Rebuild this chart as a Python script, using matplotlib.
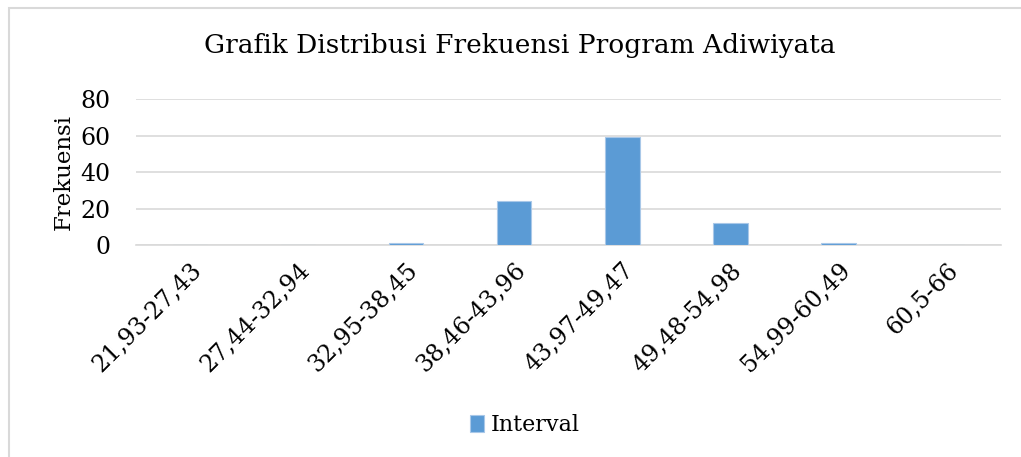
import matplotlib
matplotlib.use("Agg")
import matplotlib.pyplot as plt
from matplotlib.patches import Rectangle

categories = ["21,93-27,43", "27,44-32,94", "32,95-38,45", "38,46-43,96",
              "43,97-49,47", "49,48-54,98", "54,99-60,49", "60,5-66"]
values = [0, 0, 1, 24, 59, 12, 1, 0]
series_name = "Interval"
title = "Grafik Distribusi Frekuensi Program Adiwiyata"
ylabel = "Frekuensi"
yticks = [0, 20, 40, 60, 80]

plt.rcParams['font.family'] = ['DejaVu Serif']
fig = plt.figure(figsize=(10.21, 4.57), dpi=100)
fig.patches.append(Rectangle((0.0088, -0.1), 1.2, 1.0825, transform=fig.transFigure,
                             fill=False, edgecolor='#d9d9d9', linewidth=1.5))
ax = fig.add_axes([0.133, 0.464, 0.847, 0.319])
bar_color = '#5b9bd5'
x = list(range(len(categories)))
ax.bar(x, values, width=0.32, color=bar_color, edgecolor='#a9c8e8', linewidth=0.8,
       label=series_name, zorder=3)
ax.set_xlim(-0.5, len(categories) - 0.5)
ax.set_ylim(0, 80)
ax.set_yticks(yticks)
ax.grid(axis='y', color='#d9d9d9', linewidth=1.2, zorder=0)
for s in ['top', 'right', 'left']:
    ax.spines[s].set_visible(False)
ax.spines['bottom'].set_color('#d9d9d9')
ax.spines['bottom'].set_linewidth(1.2)
ax.tick_params(axis='both', length=0, labelsize=17, colors='black')
ax.tick_params(axis='y', pad=18)
ax.set_xticks(x)
ax.set_xticklabels(categories, rotation=45, ha='right', rotation_mode='anchor')
ax.tick_params(axis='x', pad=10)
ax.set_ylabel(ylabel, fontsize=16.5, labelpad=4)
fig.text(0.509, 0.9, title, ha='center', va='center', fontsize=19)
handles, labels = ax.get_legend_handles_labels()
fig.legend(handles, labels, loc='center', bbox_to_anchor=(0.514, 0.07), frameon=False,
           fontsize=16, handlelength=0.6, handleheight=0.8, handletextpad=0.3)
fig.savefig("out.png", dpi=100)
